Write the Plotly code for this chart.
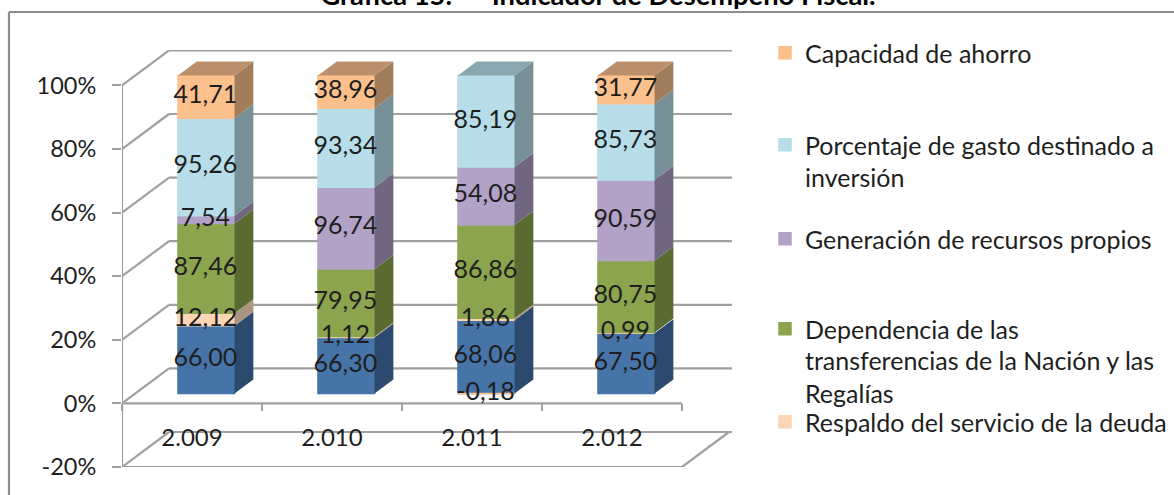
import plotly.graph_objects as go

# ---------- data ----------
years = ["2.009", "2.010", "2.011", "2.012"]
blue_vals = [66.00, 66.30, 68.06, 67.50]       # unnamed in the visible legend
respaldo = [12.12, 1.12, 1.86, 0.99]
dependencia = [87.46, 79.95, 86.86, 80.75]
generacion = [7.54, 96.74, 54.08, 90.59]
porcentaje = [95.26, 93.34, 85.19, 85.73]
capacidad = [41.71, 38.96, -0.18, 31.77]
y_ticks = [-20, 0, 20, 40, 60, 80, 100]
y_tick_text = ["-20%", "0%", "20%", "40%", "60%", "80%", "100%"]

series = [
    ("", blue_vals, "#4674A8", "#2C4A6E", "#3A5F8A"),
    ("Respaldo del servicio de la deuda", respaldo, "#FCD5B5", "#AC9580", "#BFA48C"),
    ("Dependencia de las", dependencia, "#8AA54E", "#5A6B32", "#6E8540"),
    ("Generación de recursos propios", generacion, "#B3A2C7", "#71667F", "#8F82A0"),
    ("Porcentaje de gasto destinado a", porcentaje, "#B7DEE8", "#778F96", "#8AA7AF"),
    ("Capacidad de ahorro", capacidad, "#FCC08C", "#A27D5B", "#BC8F6C"),
]
# legend lines wrapped under their first line: (text, centre y in px)
legend_wrapped = [
    ("inversión", 177),
    ("transferencias de la Nación y las", 360),
    ("Regalías", 393),
]

# ---------- canvas / projection ----------
W, H = 1174, 495
L, R, T, B = 122, 732, 50, 467          # plot area in pixels
PX_X = 140.0                            # px per category
PX_Y = 3.18                             # px per percent
X0, X1 = 0, (R - L) / PX_X
Y0, Y1 = -20, -20 + (B - T) / PX_Y
DX, DY = 47 / PX_X, 35 / PX_Y           # full depth of the box
Z_FRONT, Z_BACK = 10 / 35, 24 / 35      # bar depth inside the box
BAR_W = 0.404
BAR_NUDGE = 0.006
FONT = "Lato"
TXT = "#1E1E1E"
GRID = "#A0A0A0"
LEG_SIZE = 25


def px(x):
    return (x - L) / (R - L)


def py(y):
    return (B - y) / (B - T)


fig = go.Figure()

# ---------- stacking, normalised to 100 % ----------
n = len(years)
totals = [sum(abs(s[1][i]) for s in series) for i in range(n)]
pos = [0.0] * n
neg = [0.0] * n
tops = [None] * n
label_x = [i + 0.5 + Z_FRONT * DX for i in range(n)]
cx = [v + BAR_NUDGE for v in label_x]
shift = Z_FRONT * DY
depth_x = (Z_BACK - Z_FRONT) * DX
depth_y = (Z_BACK - Z_FRONT) * DY

legend_names = {1: "legend5", 2: "legend4", 3: "legend3", 4: "legend2", 5: "legend"}
labels_x, labels_y, labels_t = [], [], []
side_traces = []

for k, (name, vals, col, side, top) in enumerate(series):
    bases, heights, sx, sy = [], [], [], []
    for i, v in enumerate(vals):
        h = v / totals[i] * 100
        if v >= 0:
            b = pos[i]
            pos[i] += h
            tops[i] = (k, pos[i])
        else:
            b = neg[i]
            neg[i] += h
        bases.append(b + shift)
        heights.append(h)
        labels_x.append(label_x[i])
        labels_y.append(b + h / 2 + shift)
        labels_t.append(f"{v:.2f}".replace(".", ","))
        if v >= 0:
            xr = cx[i] + BAR_W / 2
            y0 = b + shift
            y1 = b + h + shift
            sx += [xr, xr + depth_x, xr + depth_x, xr, xr, None]
            sy += [y0, y0 + depth_y, y1 + depth_y, y1, y0, None]
    fig.add_trace(go.Bar(
        x=cx, y=heights, base=bases, width=BAR_W, name=name or "Serie",
        marker=dict(color=col, line=dict(color=col, width=1.5)),
        showlegend=bool(name), legend=legend_names.get(k, "legend"), hoverinfo="skip",
    ))
    side_traces.append(go.Scatter(
        x=sx, y=sy, mode="lines", fill="toself", fillcolor=side,
        line=dict(width=0, color=side), showlegend=False, hoverinfo="skip",
    ))

for tr in side_traces:
    fig.add_trace(tr)

# top faces
for k, (name, vals, col, side, top) in enumerate(series):
    tx, ty = [], []
    for i in range(n):
        if tops[i][0] == k:
            y = tops[i][1] + shift
            xl = cx[i] - BAR_W / 2
            xr = cx[i] + BAR_W / 2
            tx += [xl, xr, xr + depth_x, xl + depth_x, xl, None]
            ty += [y, y, y + depth_y, y + depth_y, y, None]
    if tx:
        fig.add_trace(go.Scatter(
            x=tx, y=ty, mode="lines", fill="toself", fillcolor=top,
            line=dict(width=0, color=top), showlegend=False, hoverinfo="skip",
        ))

# data labels
fig.add_trace(go.Scatter(
    x=labels_x, y=labels_y, text=labels_t, mode="text", textposition="middle center",
    textfont=dict(family=FONT, size=25, color=TXT), showlegend=False, hoverinfo="skip",
))

# ---------- walls, floor and gridlines ----------
shapes = []


def line(x0, y0, x1, y1, ref="x", yref="y", color=GRID, width=2.2):
    shapes.append(dict(type="line", xref=ref, yref=yref, x0=x0, y0=y0, x1=x1, y1=y1,
                       layer="below", line=dict(color=color, width=width)))


for t in y_ticks:
    line(DX, t + DY, X1, t + DY)      # back wall
    line(0, t, DX, t + DY)            # side wall
line(0, -20, n, -20)                  # floor front edge
line(n, -20, n + DX, -20 + DY)        # floor right edge
line(0, 0, n, 0)                      # category axis
line(0, -20, 0, 100)                  # value axis

# outer frame (only top and left fall inside the picture)
line(px(9), py(12), 1.0 + (W - R) / (R - L), py(12), ref="paper", yref="paper", color="#8C8C8C")
line(px(9), py(12), px(9), py(H), ref="paper", yref="paper", color="#8C8C8C")

annotations = [
    dict(text=t, xref="paper", yref="paper", x=px(803), y=py(yc), xanchor="left", yanchor="middle",
         showarrow=False, font=dict(family=FONT, size=LEG_SIZE, color=TXT))
    for t, yc in legend_wrapped
]

# ---------- legends, one per entry so each keeps its own place ----------
LX = px(765)
legend_common = dict(xanchor="left", yanchor="top", bgcolor="rgba(0,0,0,0)",
                     font=dict(family=FONT, size=LEG_SIZE, color=TXT), itemclick=False,
                     itemdoubleclick=False)

fig.update_layout(
    width=W, height=H,
    margin=dict(l=L, r=W - R, t=T, b=H - B, autoexpand=False),
    paper_bgcolor="white", plot_bgcolor="white",
    barmode="overlay", shapes=shapes, annotations=annotations,
    title=dict(text="<b>Gráfica 15.\u00a0\u00a0\u00a0\u00a0\u00a0\u00a0Indicador de Desempeño Fiscal.</b>",
               x=598 / W, xanchor="center", y=1 - 5 / H, yanchor="bottom",
               font=dict(family=FONT, size=27.3, color="#000000")),
    xaxis=dict(range=[X0, X1], anchor="free", position=py(403), showgrid=False, zeroline=False,
               showline=False, tickmode="array", tickvals=[i + 0.5 for i in range(n)], ticktext=years,
               ticks="outside", ticklen=1, tickcolor="rgba(0,0,0,0)", ticklabelstandoff=12,
               tickfont=dict(family=FONT, size=24, color=TXT),
               minor=dict(tickmode="array", tickvals=list(range(n + 1)), ticks="outside", ticklen=7,
                          tickcolor=GRID, tickwidth=2, showgrid=False)),
    yaxis=dict(range=[Y0, Y1], showgrid=False, zeroline=False, showline=False,
               tickmode="array", tickvals=y_ticks, ticktext=y_tick_text, ticks="outside", ticklen=9,
               tickcolor=GRID, tickwidth=2, ticklabelstandoff=11,
               tickfont=dict(family=FONT, size=23.5, color=TXT)),
    legend=dict(x=LX, y=py(30), **legend_common),
    legend2=dict(x=LX, y=py(122), **legend_common),
    legend3=dict(x=LX, y=py(216), **legend_common),
    legend4=dict(x=LX, y=py(306), **legend_common),
    legend5=dict(x=LX, y=py(399), **legend_common),
)

fig.write_html("out.html", config={"displayModeBar": False},
               post_script="document.body.style.margin='0';document.documentElement.style.overflow='hidden';")
